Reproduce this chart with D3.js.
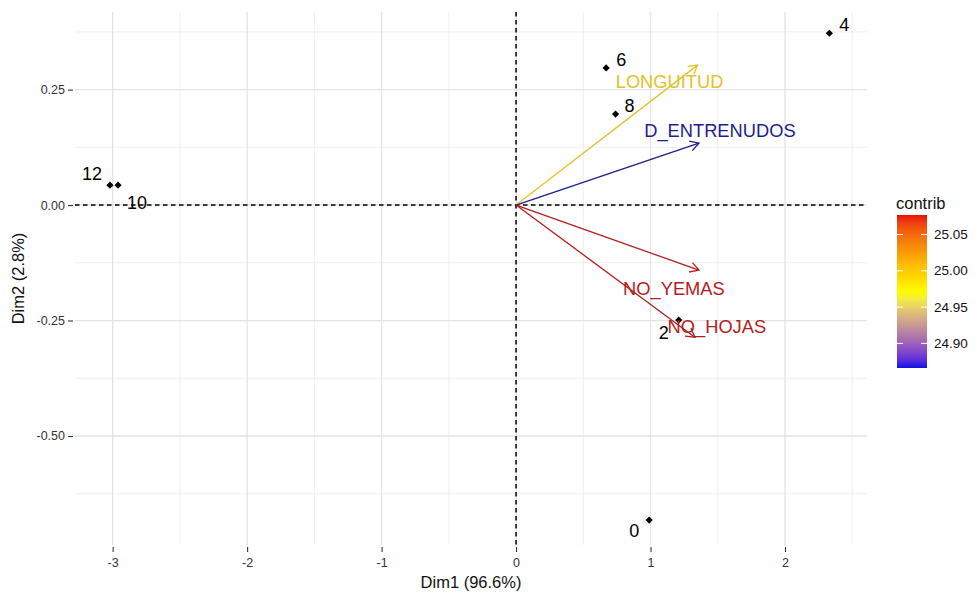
<!DOCTYPE html>
<html><head><meta charset="utf-8">
<script src="https://cdn.jsdelivr.net/npm/d3@7"></script>
<style>
body{margin:0;background:#fff}
text{font-family:"Liberation Sans",Arial,sans-serif}
</style>
</head><body>
<svg id="chart" width="977" height="594"></svg>
<script>
// PCA biplot: individuals (points) and variables (arrows coloured by contribution)
const individuals = ["0","2","4","6","8","10","12"];
const indDim1 = [0.99, 1.21, 2.33, 0.67, 0.74, -2.96, -3.02];
const indDim2 = [-0.682, -0.249, 0.372, 0.297, 0.197, 0.043, 0.043];

const variables = ["LONGUITUD","D_ENTRENUDOS","NO_YEMAS","NO_HOJAS"];
const varDim1 = [1.35, 1.36, 1.36, 1.33];
const varDim2 = [0.303, 0.134, -0.141, -0.286];
const varContrib = [24.98, 24.866, 25.077, 25.077];

const xTicks = [-3, -2, -1, 0, 1, 2];
const yTicks = [-0.5, -0.25, 0, 0.25];
const legendTicks = [24.90, 24.95, 25.00, 25.05];

// label placement (pixel offsets from the mark end)
const indLabelOffset = {"0":[-15,11],"2":[-15,13],"4":[15,-8],"6":[15,-8],"8":[14,-8],"10":[19,18],"12":[-18,-11]};
const varLabelOffset = {"LONGUITUD":[-28,16],"D_ENTRENUDOS":[21,-13],"NO_YEMAS":[-25,18],"NO_HOJAS":[22,-11]};

const svg = d3.select("#chart");
const P = {left:75, right:867, top:12, bottom:545};

const x = d3.scaleLinear().domain([-3.28, 2.61]).range([P.left, P.right]);
const y = d3.scaleLinear().domain([-0.736, 0.418]).range([P.bottom, P.top]);

const cMin = d3.min(varContrib), cMax = d3.max(varContrib);
const cMid = 24.97;
// legend gradient colours
const color = d3.scaleLinear()
  .domain([cMin, cMid, cMax])
  .range(["#1010e8", "#ffff00", "#e81010"])
  .interpolate(d3.interpolateLab);
// ink used for the thin arrows and their labels
const ink = d3.scaleLinear()
  .domain([cMin, 24.98, cMax])
  .range(["#1e1e8e", "#e2c22a", "#b21e1e"])
  .interpolate(d3.interpolateLab);

const hyphen = f => d => f(d).replace("\u2212", "-");

// grid
const grid = svg.append("g");
const xMinor = d3.range(-3.5, 3, 1).filter(v => x(v) >= P.left && x(v) <= P.right);
const yMinor = [-0.625, -0.375, -0.125, 0.125, 0.375];
grid.selectAll(".xm").data(xMinor).join("line")
  .attr("x1", d => x(d)).attr("x2", d => x(d)).attr("y1", P.top).attr("y2", P.bottom)
  .attr("stroke", "#ebebeb").attr("stroke-width", 0.8);
grid.selectAll(".ym").data(yMinor).join("line")
  .attr("x1", P.left).attr("x2", P.right).attr("y1", d => y(d)).attr("y2", d => y(d))
  .attr("stroke", "#ebebeb").attr("stroke-width", 0.8);
grid.selectAll(".xM").data(xTicks).join("line")
  .attr("x1", d => x(d)).attr("x2", d => x(d)).attr("y1", P.top).attr("y2", P.bottom)
  .attr("stroke", "#e3e3e3").attr("stroke-width", 1.3);
grid.selectAll(".yM").data(yTicks).join("line")
  .attr("x1", P.left).attr("x2", P.right).attr("y1", d => y(d)).attr("y2", d => y(d))
  .attr("stroke", "#e3e3e3").attr("stroke-width", 1.3);

// axes
const xAxis = svg.append("g").attr("transform", `translate(0,${P.bottom + 2})`)
  .call(d3.axisBottom(x).tickValues(xTicks).tickSize(5).tickPadding(6).tickFormat(hyphen(d3.format("d"))));
const yAxis = svg.append("g").attr("transform", `translate(${P.left - 2},0)`)
  .call(d3.axisLeft(y).tickValues(yTicks).tickSize(5).tickPadding(3).tickFormat(hyphen(d3.format(".2f"))));
[xAxis, yAxis].forEach(a => {
  a.select(".domain").remove();
  a.selectAll(".tick line").attr("stroke", "#333").attr("stroke-width", 1.1);
  a.selectAll(".tick text").attr("fill", "#333").attr("font-size", 12.5)
    .style("font-family", '"Liberation Sans",Arial,sans-serif');
});

// zero reference lines
svg.append("line").attr("x1", P.left).attr("x2", P.right).attr("y1", y(0)).attr("y2", y(0))
  .attr("stroke", "#000").attr("stroke-width", 1.5).attr("stroke-dasharray", "4.5,3.5");
svg.append("line").attr("x1", x(0)).attr("x2", x(0)).attr("y1", P.top).attr("y2", P.bottom)
  .attr("stroke", "#000").attr("stroke-width", 1.5).attr("stroke-dasharray", "4.5,3.5");

// axis titles
svg.append("text").attr("x", (P.left + P.right) / 2).attr("y", 588).attr("text-anchor", "middle")
  .attr("font-size", 16.5).attr("fill", "#111").text("Dim1 (96.6%)");
svg.append("text").attr("transform", `translate(24,${(P.top + P.bottom) / 2}) rotate(-90)`)
  .attr("text-anchor", "middle").attr("font-size", 16.5).attr("fill", "#111").text("Dim2 (2.8%)");

// individuals
const ind = individuals.map((n, i) => ({name: n, d1: indDim1[i], d2: indDim2[i]}));
svg.append("g").selectAll("path").data(ind).join("path")
  .attr("transform", d => `translate(${x(d.d1)},${y(d.d2)}) rotate(45)`)
  .attr("d", d3.symbol(d3.symbolSquare, 26))
  .attr("fill", "#000");
svg.append("g").selectAll("text").data(ind).join("text")
  .attr("x", d => x(d.d1) + indLabelOffset[d.name][0])
  .attr("y", d => y(d.d2) + indLabelOffset[d.name][1])
  .attr("text-anchor", "middle").attr("dominant-baseline", "central")
  .attr("font-size", 18).attr("fill", "#000").text(d => d.name);

// variable arrows
const vars = variables.map((n, i) => ({name: n, d1: varDim1[i], d2: varDim2[i], c: varContrib[i]}));
const arrows = svg.append("g");
vars.forEach(v => {
  const x0 = x(0), y0 = y(0), x1 = x(v.d1), y1 = y(v.d2);
  const col = ink(v.c);
  const ang = Math.atan2(y1 - y0, x1 - x0);
  const L = 10, a = Math.PI / 6;
  arrows.append("line").attr("x1", x0).attr("y1", y0).attr("x2", x1).attr("y2", y1)
    .attr("stroke", col).attr("stroke-width", 1.3);
  arrows.append("path")
    .attr("d", `M${x1 - L * Math.cos(ang - a)},${y1 - L * Math.sin(ang - a)}L${x1},${y1}L${x1 - L * Math.cos(ang + a)},${y1 - L * Math.sin(ang + a)}`)
    .attr("fill", "none").attr("stroke", col).attr("stroke-width", 1.3);
  arrows.append("text")
    .attr("x", x1 + varLabelOffset[v.name][0]).attr("y", y1 + varLabelOffset[v.name][1])
    .attr("text-anchor", "middle").attr("dominant-baseline", "central")
    .attr("font-size", 18.3).attr("fill", col).text(v.name);
});

// colour legend
const lg = svg.append("g");
const ly = d3.scaleLinear().domain([cMin, cMax]).range([368, 215]);
const defs = svg.append("defs");
const grad = defs.append("linearGradient").attr("id", "contribGrad")
  .attr("x1", 0).attr("y1", 1).attr("x2", 0).attr("y2", 0);
d3.range(0, 1.0001, 0.05).forEach(t => {
  grad.append("stop").attr("offset", t).attr("stop-color", color(cMin + t * (cMax - cMin)));
});
lg.append("text").attr("x", 896).attr("y", 209).attr("font-size", 16.5).attr("fill", "#111").text("contrib");
lg.append("rect").attr("x", 897).attr("y", 215).attr("width", 30).attr("height", 153)
  .attr("fill", "url(#contribGrad)");
legendTicks.forEach(t => {
  lg.append("line").attr("x1", 897).attr("x2", 903).attr("y1", ly(t)).attr("y2", ly(t)).attr("stroke", "#fff").attr("stroke-width", 1);
  lg.append("line").attr("x1", 921).attr("x2", 927).attr("y1", ly(t)).attr("y2", ly(t)).attr("stroke", "#fff").attr("stroke-width", 1);
  lg.append("text").attr("x", 934).attr("y", ly(t)).attr("dominant-baseline", "central")
    .attr("font-size", 13.5).attr("fill", "#111").text(t.toFixed(2));
});
</script>
</body></html>
